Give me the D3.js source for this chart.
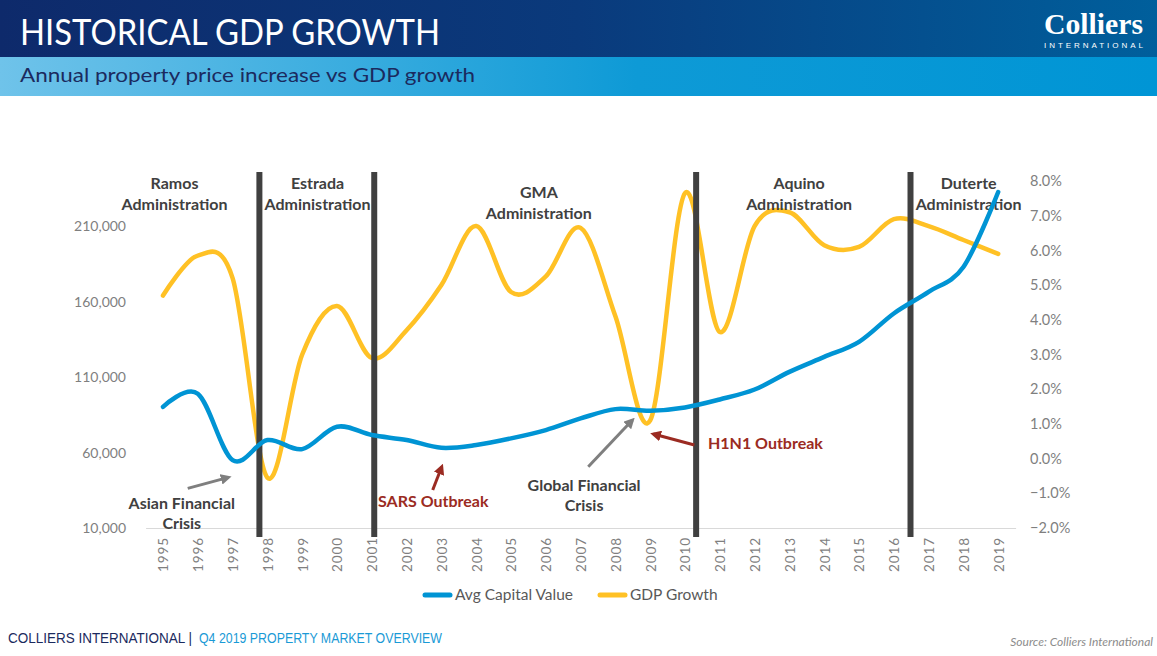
<!DOCTYPE html>
<html>
<head>
<meta charset="utf-8">
<script src="https://cdn.jsdelivr.net/npm/d3@7"></script>
<style>
  html, body { margin: 0; padding: 0; background: #fff; }
  svg { display: block; }
</style>
</head>
<body>
<svg id="chart" width="1157" height="656"></svg>
<script>
// ---------- DATA ----------
const years = [1995,1996,1997,1998,1999,2000,2001,2002,2003,2004,2005,2006,2007,2008,2009,2010,2011,2012,2013,2014,2015,2016,2017,2018,2019];
const avgCapitalValue = [90300,99000,55000,68300,62300,77100,71600,68300,63200,65000,69400,74900,82600,88800,87700,89900,95200,101800,113500,123400,133400,152200,166500,183000,232700];
const gdpGrowth = [4.7,5.85,5.2,-0.55,3.0,4.4,2.9,3.7,5.0,6.7,4.8,5.25,6.65,4.1,1.1,7.65,3.65,6.7,7.1,6.15,6.1,6.9,6.7,6.3,5.9];
const leftTicks = [10000,60000,110000,160000,210000];
const rightTicks = [-2,-1,0,1,2,3,4,5,6,7,8];
const seriesNames = ["Avg Capital Value","GDP Growth"];
// administration boundaries (in year units)
const adminBoundaries = [1997.77, 2001.07, 2010.32, 2016.48];
const adminLabels = [
  {name:"Ramos", year:1995.33, pct:7.76},
  {name:"Estrada", year:1999.44, pct:7.76},
  {name:"GMA", year:2005.8, pct:7.5},
  {name:"Aquino", year:2013.28, pct:7.76},
  {name:"Duterte", year:2018.15, pct:7.76}
];
const eventLabels = [
  {lines:["Asian Financial","Crisis"], year:1995.54, pct:-1.45, color:"grey", anchor:"middle"},
  {lines:["SARS Outbreak"], year:2001.18, pct:-1.39, color:"red", anchor:"start"},
  {lines:["Global Financial","Crisis"], year:2007.1, pct:-0.93, color:"grey", anchor:"middle"},
  {lines:["H1N1 Outbreak"], year:2010.66, pct:0.27, color:"red", anchor:"start"}
];
const eventArrows = [
  {x1:1995.71, y1:-0.857, x2:1996.88, y2:-0.54, color:"grey"},
  {x1:2002.75, y1:-0.906, x2:2003.01, y2:-0.235, color:"red"},
  {x1:2007.22, y1:-0.235, x2:2008.49, y2:1.11, color:"grey"},
  {x1:2010.27, y1:0.39, x2:2009.09, y2:0.707, color:"red"}
];

// ---------- STYLE ----------
const BLUE = "#0094d4", YELLOW = "#ffc125", BAR = "#404040";
const TXT = "#404040", TICK = "#7f7f7f", RED = "#9b2b22", ARROWGREY = "#7f7f7f";
const FONT = "Lato, 'Open Sans', sans-serif";

const svg = d3.select("#chart");
const defs = svg.append("defs");

// header gradients
const g1 = defs.append("linearGradient").attr("id","hdr1").attr("x1","0").attr("x2","1");
g1.append("stop").attr("offset","0").attr("stop-color","#0e2a6b");
g1.append("stop").attr("offset","0.5").attr("stop-color","#0a3a7c");
g1.append("stop").attr("offset","1").attr("stop-color","#005f9c");
const g2 = defs.append("linearGradient").attr("id","hdr2").attr("x1","0").attr("x2","1");
g2.append("stop").attr("offset","0").attr("stop-color","#6fc3ea");
g2.append("stop").attr("offset","0.55").attr("stop-color","#0e9ad6");
g2.append("stop").attr("offset","1").attr("stop-color","#0095d5");

svg.append("rect").attr("x",0).attr("y",0).attr("width",1157).attr("height",57).attr("fill","url(#hdr1)");
svg.append("rect").attr("x",0).attr("y",57).attr("width",1157).attr("height",39).attr("fill","url(#hdr2)");

svg.append("text").attr("x",20).attr("y",45)
  .attr("font-family","Lato, sans-serif").attr("font-size",37).attr("fill","#fff")
  .attr("textLength",420).attr("lengthAdjust","spacingAndGlyphs")
  .text("HISTORICAL GDP GROWTH");
svg.append("text").attr("x",20).attr("y",82)
  .attr("font-family","Lato, sans-serif").attr("font-size",20).attr("fill","#1b2a5e")
  .attr("textLength",455).attr("lengthAdjust","spacingAndGlyphs")
  .text("Annual property price increase vs GDP growth");

// logo
svg.append("text").attr("x",1143).attr("y",34).attr("text-anchor","end")
  .attr("font-family","'Liberation Serif', 'DejaVu Serif', serif").attr("font-weight","bold")
  .attr("font-size",30).attr("fill","#fff")
  .attr("textLength",99).attr("lengthAdjust","spacingAndGlyphs")
  .text("Colliers");
svg.append("text").attr("x",1044).attr("y",48)
  .attr("font-family","'Liberation Sans', sans-serif")
  .attr("font-size",8).attr("fill","#fff")
  .attr("textLength",99).attr("lengthAdjust","spacing")
  .text("INTERNATIONAL");

// ---------- SCALES ----------
const x = d3.scaleLinear().domain([1994.5, 2019.5]).range([145.6, 1015.6]);
const yL = d3.scaleLinear().domain([10000, 240000]).range([528, 181]);
const yR = d3.scaleLinear().domain([-2, 8]).range([528, 181]);

// axes
const leftAxis = d3.axisLeft(yL).tickValues(leftTicks).tickSize(0).tickPadding(0)
  .tickFormat(d3.format(","));
const gL = svg.append("g").attr("transform","translate(126,0)").call(leftAxis);
gL.select(".domain").remove();
gL.selectAll("text").attr("font-family",FONT).attr("font-size",14).attr("fill",TICK);

const rightAxis = d3.axisRight(yR).tickValues(rightTicks).tickSize(0).tickPadding(0)
  .tickFormat(d => d3.format(".1f")(d) + "%");
const gR = svg.append("g").attr("transform","translate(1030,0)").call(rightAxis);
gR.select(".domain").remove();
gR.selectAll("text").attr("font-family",FONT).attr("font-size",14.5).attr("fill",TICK);

// x axis
const bottomAxis = d3.axisBottom(x).tickValues(years).tickSize(0).tickPadding(0).tickFormat(d3.format("d"));
const gX = svg.append("g").attr("transform","translate(0,528)").call(bottomAxis);
gX.select(".domain").attr("stroke","#d9d9d9").attr("stroke-width",1);
gX.selectAll("text")
  .attr("font-family",FONT).attr("font-size",13.5).attr("fill",TICK)
  .attr("letter-spacing","0.9px")
  .attr("text-anchor","end")
  .attr("transform","translate(0,9) rotate(-90)")
  .attr("x",0).attr("y",0).attr("dy","0.36em");

// ---------- LINES ----------
const lineL = d3.line().x((d,i)=>x(years[i])).y(d=>yL(d)).curve(d3.curveCatmullRom.alpha(0));
const lineR = d3.line().x((d,i)=>x(years[i])).y(d=>yR(d)).curve(d3.curveCatmullRom.alpha(0));

svg.append("path").datum(gdpGrowth).attr("d",lineR)
  .attr("fill","none").attr("stroke",YELLOW).attr("stroke-width",4.5)
  .attr("stroke-linecap","round").attr("stroke-linejoin","round");

// administration bars
svg.append("g").selectAll("line").data(adminBoundaries).join("line")
  .attr("x1",d=>x(d)).attr("x2",d=>x(d)).attr("y1",172).attr("y2",537)
  .attr("stroke",BAR).attr("stroke-width",6);

// admin labels
const adm = svg.append("g").selectAll("text").data(adminLabels).join("text")
  .attr("x",d=>x(d.year)).attr("y",d=>yR(d.pct))
  .attr("text-anchor","middle").attr("font-family",FONT).attr("font-weight","bold")
  .attr("font-size",16).attr("fill",TXT);
adm.append("tspan").attr("x",d=>x(d.year)).text(d=>d.name);
adm.append("tspan").attr("x",d=>x(d.year)).attr("dy",20.5).text("Administration");

svg.append("path").datum(avgCapitalValue).attr("d",lineL)
  .attr("fill","none").attr("stroke",BLUE).attr("stroke-width",4.5)
  .attr("stroke-linecap","round").attr("stroke-linejoin","round");

// arrows
["grey","red"].forEach(c=>{
  defs.append("marker").attr("id","ah-"+c).attr("viewBox","0 0 10 10")
    .attr("refX",7).attr("refY",5).attr("markerWidth",3.6).attr("markerHeight",3.6)
    .attr("orient","auto").attr("markerUnits","strokeWidth")
    .append("path").attr("d","M0,0 L10,5 L0,10 z").attr("fill", c==="grey"?ARROWGREY:RED);
});
svg.append("g").selectAll("line").data(eventArrows).join("line")
  .attr("x1",d=>x(d.x1)).attr("y1",d=>yR(d.y1))
  .attr("x2",d=>x(d.x2)).attr("y2",d=>yR(d.y2))
  .attr("stroke",d=>d.color==="grey"?ARROWGREY:RED).attr("stroke-width",3)
  .attr("marker-end",d=>"url(#ah-"+d.color+")");

const ev = svg.append("g").selectAll("text").data(eventLabels).join("text")
  .attr("x",d=>x(d.year)).attr("y",d=>yR(d.pct))
  .attr("text-anchor",d=>d.anchor).attr("font-family",FONT).attr("font-weight","bold")
  .attr("font-size",16).attr("fill",d=>d.color==="grey"?TXT:RED);
ev.each(function(d){
  const t = d3.select(this);
  d.lines.forEach((l,i)=>{
    t.append("tspan").attr("x",x(d.year)).attr("dy",i===0?0:20.3).text(l);
  });
});

// legend
const legend = svg.append("g").attr("transform","translate(0,595)");
const legItems = [
  {name:seriesNames[0], color:BLUE, x0:423},
  {name:seriesNames[1], color:YELLOW, x0:598}
];
legItems.forEach(it=>{
  legend.append("line").attr("x1",it.x0+2).attr("x2",it.x0+27).attr("y1",0).attr("y2",0)
    .attr("stroke",it.color).attr("stroke-width",5).attr("stroke-linecap","round");
  legend.append("text").attr("x",it.x0+32).attr("y",0).attr("dy","0.35em")
    .attr("font-family",FONT).attr("font-size",15.5).attr("fill","#595959").text(it.name);
});

// footer
svg.append("text").attr("x",8).attr("y",643)
  .attr("font-family","'Liberation Sans Narrow', 'Liberation Sans', sans-serif")
  .attr("font-size",14).attr("fill","#1b2a5e")
  .attr("textLength",184).attr("lengthAdjust","spacingAndGlyphs")
  .text("COLLIERS INTERNATIONAL |");
svg.append("text").attr("x",199).attr("y",643)
  .attr("font-family","'Liberation Sans Narrow', 'Liberation Sans', sans-serif")
  .attr("font-size",14).attr("fill","#1a9ad6")
  .attr("textLength",243).attr("lengthAdjust","spacingAndGlyphs")
  .text("Q4 2019 PROPERTY MARKET OVERVIEW");

svg.append("text").attr("x",1153).attr("y",646).attr("text-anchor","end")
  .attr("font-family",FONT).attr("font-style","italic").attr("font-size",12)
  .attr("fill","#8c8c8c").text("Source: Colliers International");
</script>
</body>
</html>
